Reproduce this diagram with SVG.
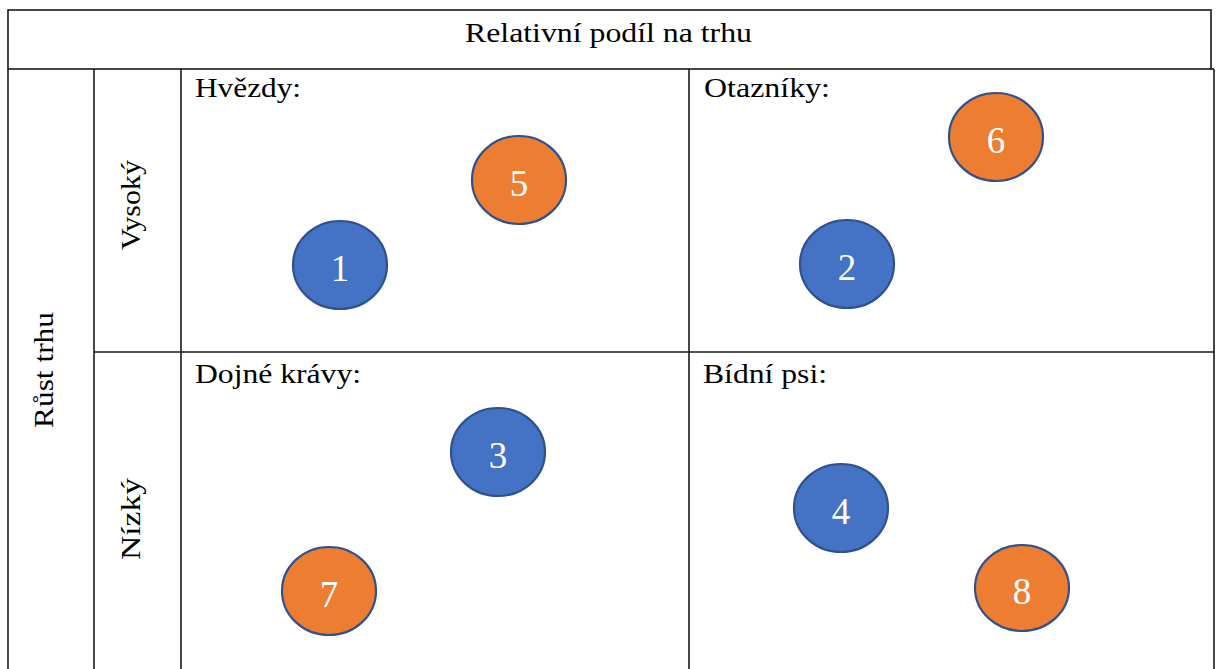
<svg xmlns="http://www.w3.org/2000/svg" width="1216" height="669" viewBox="0 0 1216 669">
<style>
.ln{stroke:#1a1a1a;stroke-width:1.6;fill:none}
.t{font-family:"Liberation Serif","Times New Roman",serif;font-size:28px;fill:#000}
.b{fill:#4472C4;stroke:#2F528F;stroke-width:2.2}
.o{fill:#ED7D31;stroke:#2F528F;stroke-width:2.2}
.n{font-family:"Liberation Serif","Times New Roman",serif;font-size:37px;fill:#fff;text-anchor:middle}
</style>
<rect width="1216" height="669" fill="#fff"/>
<g id="grid">
<rect class="ln" x="8" y="10" width="1203" height="59"/>
<line class="ln" x1="8" y1="69" x2="8" y2="669"/>
<line class="ln" x1="94" y1="69" x2="94" y2="669"/>
<line class="ln" x1="181" y1="69" x2="181" y2="669"/>
<line class="ln" x1="689" y1="69" x2="689" y2="669"/>
<line class="ln" x1="1214" y1="69" x2="1214" y2="669"/>
<line class="ln" x1="1211" y1="69" x2="1214" y2="69"/>
<line class="ln" x1="94" y1="352" x2="1214" y2="352"/>
</g>
<g id="labels">
<text class="t" x="465" y="41.5" textLength="287" lengthAdjust="spacingAndGlyphs">Relativní podíl na trhu</text>
<text class="t" x="195" y="97" textLength="106" lengthAdjust="spacingAndGlyphs">Hvězdy:</text>
<text class="t" x="704" y="97" textLength="126" lengthAdjust="spacingAndGlyphs">Otazníky:</text>
<text class="t" x="195" y="383" textLength="166" lengthAdjust="spacingAndGlyphs">Dojné krávy:</text>
<text class="t" x="703" y="383" textLength="124" lengthAdjust="spacingAndGlyphs">Bídní psi:</text>
<text class="t" transform="translate(53,428) rotate(-90)" textLength="116" lengthAdjust="spacingAndGlyphs">Růst trhu</text>
<text class="t" transform="translate(140,250) rotate(-90)" textLength="90" lengthAdjust="spacingAndGlyphs">Vysoký</text>
<text class="t" transform="translate(140,560) rotate(-90)" textLength="82" lengthAdjust="spacingAndGlyphs">Nízký</text>
</g>
<g id="node1"><ellipse class="b" cx="340" cy="265" rx="47" ry="44"/><text class="n" x="340" y="281">1</text></g>
<g id="node5"><ellipse class="o" cx="519" cy="180" rx="47" ry="44"/><text class="n" x="519" y="196">5</text></g>
<g id="node6"><ellipse class="o" cx="996" cy="137" rx="47" ry="44"/><text class="n" x="996" y="153">6</text></g>
<g id="node2"><ellipse class="b" cx="847" cy="264" rx="47" ry="44"/><text class="n" x="847" y="280">2</text></g>
<g id="node3"><ellipse class="b" cx="498" cy="452" rx="47" ry="44"/><text class="n" x="498" y="468">3</text></g>
<g id="node4"><ellipse class="b" cx="841" cy="508" rx="47" ry="44"/><text class="n" x="841" y="524">4</text></g>
<g id="node7"><ellipse class="o" cx="329" cy="591" rx="47" ry="44"/><text class="n" x="329" y="607">7</text></g>
<g id="node8"><ellipse class="o" cx="1022" cy="588" rx="47" ry="43"/><text class="n" x="1022" y="604">8</text></g>
<g id="connectors"></g>
</svg>
